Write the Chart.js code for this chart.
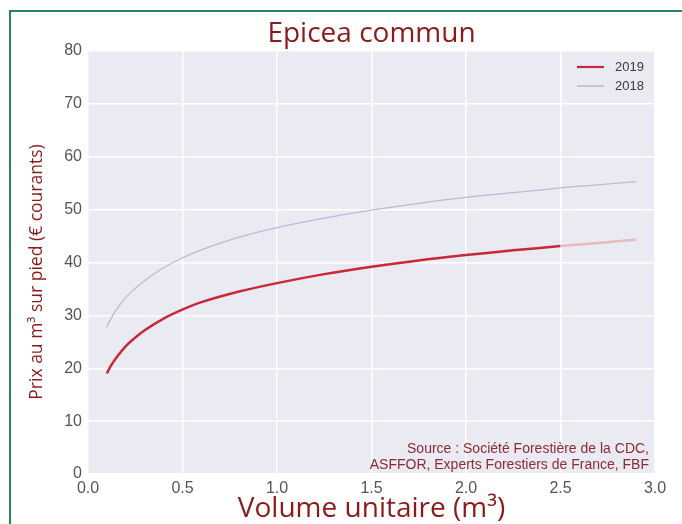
<!DOCTYPE html>
<html>
<head>
<meta charset="utf-8">
<script src="https://cdn.jsdelivr.net/npm/chart.js@4.4.1/dist/chart.umd.min.js"></script>
<style>
  html, body { margin: 0; padding: 0; background: #fff; }
  #wrap { position: relative; width: 682px; height: 524px; overflow: hidden; }
  #frame { position: absolute; left: 9px; top: 10px; width: 700px; height: 600px;
           border-left: 2px solid #23875a; border-top: 2px solid #23875a; }
  canvas { position: absolute; left: 0; top: 0; }
</style>
</head>
<body>
<div id="wrap">
  <div id="frame"></div>
  <canvas id="chart" width="682" height="524"></canvas>
</div>
<script>
// volume unitaire (m3) and price per m3
const volumes  = [0.1, 0.12, 0.15, 0.2, 0.25, 0.3, 0.4, 0.5, 0.6, 0.8, 1.0, 1.25, 1.5, 1.75, 2.0, 2.25, 2.5, 2.7, 2.9];
const prix2019 = [19.0, 20.4, 22.0, 24.2, 25.8, 27.2, 29.4, 31.1, 32.5, 34.5, 36.1, 37.8, 39.2, 40.4, 41.4, 42.3, 43.1, 43.7, 44.3];
const prix2018 = [27.8, 29.3, 31.1, 33.4, 35.1, 36.6, 39.0, 40.9, 42.4, 44.8, 46.6, 48.4, 49.9, 51.2, 52.3, 53.2, 54.1, 54.7, 55.3];
const xTicks = [0, 0.5, 1.0, 1.5, 2.0, 2.5, 3.0];
const yTicks = [0, 10, 20, 30, 40, 50, 60, 70, 80];
const sourceLines = ['Source : Société Forestière de la CDC,', 'ASFFOR, Experts Forestiers de France, FBF'];

const RED = '#c9283a';
const RED_FADED = '#eab9bd';
const LAVENDER = '#b9b9db';
const DARK_RED = '#8b1a1a';

const toPoints = (ys) => volumes.map((x, i) => ({ x: x, y: ys[i] }));

// plot background (seaborn style)
const plotBg = {
  id: 'plotBg',
  beforeDraw(chart) {
    const { ctx, chartArea: a } = chart;
    ctx.save();
    ctx.fillStyle = '#eaeaf2';
    ctx.fillRect(a.left, a.top, a.right - a.left, a.bottom - a.top);
    ctx.restore();
  }
};

// title, y title, legend inside the plot, source note
const extras = {
  id: 'extras',
  afterDraw(chart) {
    const { ctx, chartArea: a } = chart;
    ctx.save();
    ctx.fillStyle = DARK_RED;
    ctx.font = '28px "Open Sans"';
    ctx.textAlign = 'center';
    ctx.textBaseline = 'alphabetic';
    ctx.fillText('Epicea commun', (a.left + a.right) / 2, 42);

    // y axis title, a bit below the plot centre like the original
    ctx.save();
    ctx.translate(37, 272);
    ctx.rotate(-Math.PI / 2);
    ctx.font = '17.5px "Open Sans"';
    ctx.textBaseline = 'middle';
    ctx.fillText('Prix au m³ sur pied (€ courants)', 0, 0);
    ctx.restore();

    // legend
    ctx.font = '13px "Liberation Sans"';
    ctx.textAlign = 'left';
    ctx.textBaseline = 'middle';
    chart.data.datasets.forEach((ds, i) => {
      const y = a.top + 16 + i * 19;
      ctx.strokeStyle = ds.borderColor;
      ctx.lineWidth = i === 0 ? 2.2 : 1.5;
      ctx.beginPath();
      ctx.moveTo(a.right - 78, y);
      ctx.lineTo(a.right - 51, y);
      ctx.stroke();
      ctx.fillStyle = '#3a3a3a';
      ctx.fillText(ds.label, a.right - 40, y);
    });

    // source
    ctx.fillStyle = '#8e2a36';
    ctx.font = '14px "Liberation Sans"';
    ctx.textAlign = 'right';
    ctx.fillText(sourceLines[0], a.right - 6, a.bottom - 25);
    ctx.fillText(sourceLines[1], a.right - 6, a.bottom - 9);
    ctx.restore();
  }
};

const ctx = document.getElementById('chart').getContext('2d');
new Chart(ctx, {
  type: 'line',
  data: {
    datasets: [{
      label: '2019',
      data: toPoints(prix2019),
      borderColor: RED,
      borderWidth: 2.5,
      pointRadius: 0,
      tension: 0.4,
      segment: {
        // after 2.5 m3 the curve is drawn pale
        borderColor: (c) => c.p0.parsed.x >= 2.5 ? RED_FADED : undefined
      }
    }, {
      label: '2018',
      data: toPoints(prix2018),
      borderColor: LAVENDER,
      borderWidth: 1.3,
      pointRadius: 0,
      tension: 0.4
    }]
  },
  options: {
    responsive: false,
    animation: false,
    layout: { padding: { left: 0, top: 51, right: 27, bottom: 0 } },
    plugins: {
      legend: { display: false },
      tooltip: { enabled: false }
    },
    scales: {
      x: {
        type: 'linear',
        min: 0,
        max: 3,
        afterBuildTicks: (s) => { s.ticks = xTicks.map(v => ({ value: v })); },
        afterFit: (s) => { s.height = 50; },
        grid: { color: '#ffffff', lineWidth: 1.5, drawTicks: false },
        border: { display: false },
        ticks: {
          padding: 5,
          color: '#555',
          font: { family: 'Liberation Sans', size: 16 },
          callback: (v) => v.toFixed(1)
        },
        title: {
          display: true,
          text: 'Volume unitaire (m³)',
          color: DARK_RED,
          font: { family: 'Open Sans', size: 28, lineHeight: 1 },
          padding: { top: 0, bottom: 1 }
        }
      },
      y: {
        min: 0,
        max: 80,
        afterBuildTicks: (s) => { s.ticks = yTicks.map(v => ({ value: v })); },
        afterFit: (s) => { s.width = 88; },
        grid: { color: '#ffffff', lineWidth: 1.5, drawTicks: false },
        border: { display: false },
        ticks: {
          padding: 6,
          color: '#555',
          font: { family: 'Liberation Sans', size: 16 }
        }
      }
    }
  },
  plugins: [plotBg, extras]
});
</script>
</body>
</html>
